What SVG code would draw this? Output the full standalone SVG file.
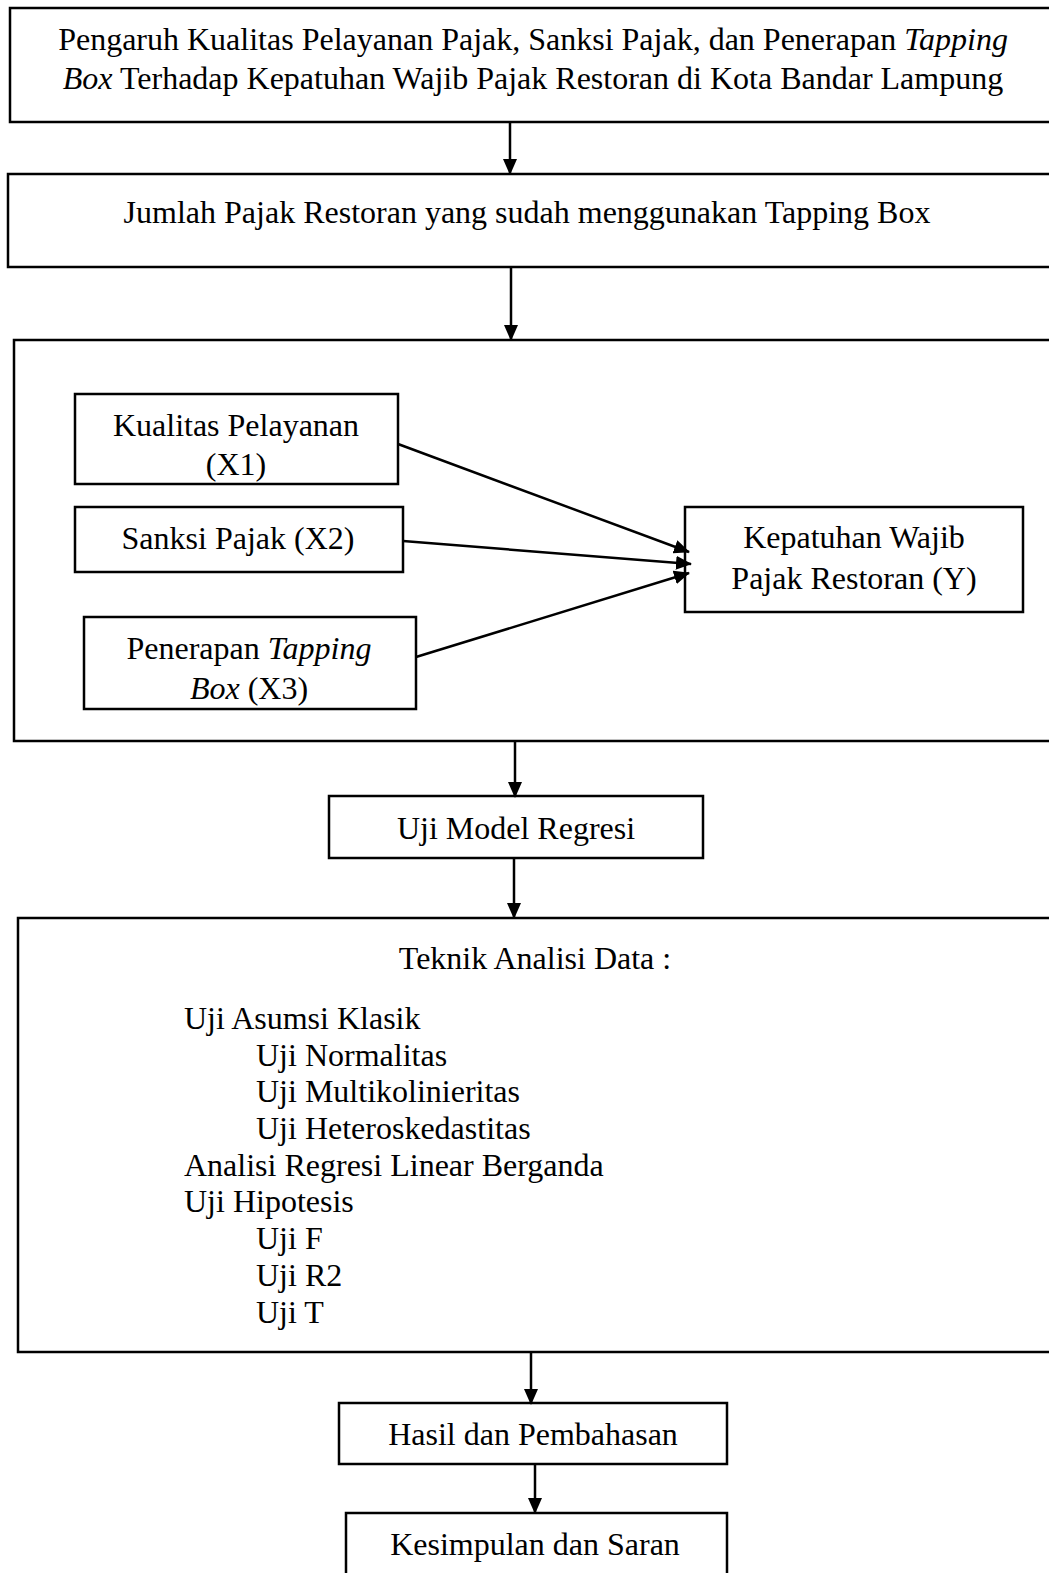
<svg xmlns="http://www.w3.org/2000/svg" width="1049" height="1573" viewBox="0 0 1049 1573">
<style>
.box{fill:#fff;stroke:#000;stroke-width:2.5}
.t{font-family:"Liberation Serif","Times New Roman",serif;font-size:32px;fill:#000}
.c{text-anchor:middle}
.edge{stroke:#000;stroke-width:2.5;fill:none}
</style>
<defs>
<marker id="ah" markerWidth="16" markerHeight="14" refX="15" refY="7" orient="auto" markerUnits="userSpaceOnUse">
<path d="M0,0 L16,7 L0,14 Z" fill="#000"/>
</marker>
<marker id="av" markerWidth="16" markerHeight="14" refX="15" refY="7" orient="auto" markerUnits="userSpaceOnUse">
<path d="M0,0 L16,7 L0,14 Z" fill="#000"/>
</marker>
</defs>
<rect width="1049" height="1573" fill="#fff"/>
<g id="n1">
<rect class="box" x="10" y="8" width="1045" height="114"/>
<text class="t c" x="533" y="50">Pengaruh Kualitas Pelayanan Pajak, Sanksi Pajak, dan Penerapan <tspan font-style="italic">Tapping</tspan></text>
<text class="t c" x="533" y="89"><tspan font-style="italic">Box</tspan> Terhadap Kepatuhan Wajib Pajak Restoran di Kota Bandar Lampung</text>
</g>
<g id="n2">
<rect class="box" x="8" y="174" width="1047" height="93"/>
<text class="t c" x="527" y="223">Jumlah Pajak Restoran yang sudah menggunakan Tapping Box</text>
</g>
<g id="n3">
<rect class="box" x="14" y="340" width="1041" height="401"/>
</g>
<g id="x1">
<rect class="box" x="75" y="394" width="323" height="90"/>
<text class="t c" x="236" y="436">Kualitas Pelayanan</text>
<text class="t c" x="236" y="475">(X1)</text>
</g>
<g id="x2">
<rect class="box" x="75" y="507" width="328" height="65"/>
<text class="t c" x="238" y="549">Sanksi Pajak (X2)</text>
</g>
<g id="x3">
<rect class="box" x="84" y="617" width="332" height="92"/>
<text class="t c" x="249" y="659">Penerapan <tspan font-style="italic">Tapping</tspan></text>
<text class="t c" x="249" y="699"><tspan font-style="italic">Box</tspan> (X3)</text>
</g>
<g id="y">
<rect class="box" x="685" y="507" width="338" height="105"/>
<text class="t c" x="854" y="548">Kepatuhan Wajib</text>
<text class="t c" x="854" y="589">Pajak Restoran (Y)</text>
</g>
<g id="n4">
<rect class="box" x="329" y="796" width="374" height="62"/>
<text class="t c" x="516" y="839">Uji Model Regresi</text>
</g>
<g id="n5">
<rect class="box" x="18" y="918" width="1037" height="434"/>
<text class="t c" x="535" y="969">Teknik Analisi Data :</text>
<text class="t" x="184" y="1029">Uji Asumsi Klasik</text>
<text class="t" x="256" y="1066">Uji Normalitas</text>
<text class="t" x="256" y="1102">Uji Multikolinieritas</text>
<text class="t" x="256" y="1139">Uji Heteroskedastitas</text>
<text class="t" x="184" y="1176">Analisi Regresi Linear Berganda</text>
<text class="t" x="184" y="1212">Uji Hipotesis</text>
<text class="t" x="256" y="1249">Uji F</text>
<text class="t" x="256" y="1286">Uji R2</text>
<text class="t" x="256" y="1323">Uji T</text>
</g>
<g id="n6">
<rect class="box" x="339" y="1403" width="388" height="61"/>
<text class="t c" x="533" y="1445">Hasil dan Pembahasan</text>
</g>
<g id="n7">
<rect class="box" x="346" y="1513" width="381" height="80"/>
<text class="t c" x="535" y="1555">Kesimpulan dan Saran</text>
</g>
<g id="connectors">
<line class="edge" x1="510" y1="122" x2="510" y2="174" marker-end="url(#av)"/>
<line class="edge" x1="511" y1="267" x2="511" y2="340" marker-end="url(#av)"/>
<line class="edge" x1="398" y1="444" x2="689" y2="552" marker-end="url(#ah)"/>
<line class="edge" x1="403" y1="541" x2="691" y2="564" marker-end="url(#ah)"/>
<line class="edge" x1="416" y1="657" x2="689" y2="573" marker-end="url(#ah)"/>
<line class="edge" x1="515" y1="742" x2="515" y2="797" marker-end="url(#av)"/>
<line class="edge" x1="514" y1="858" x2="514" y2="918" marker-end="url(#av)"/>
<line class="edge" x1="531" y1="1352" x2="531" y2="1404" marker-end="url(#av)"/>
<line class="edge" x1="535" y1="1464" x2="535" y2="1513" marker-end="url(#av)"/>
</g>
</svg>
